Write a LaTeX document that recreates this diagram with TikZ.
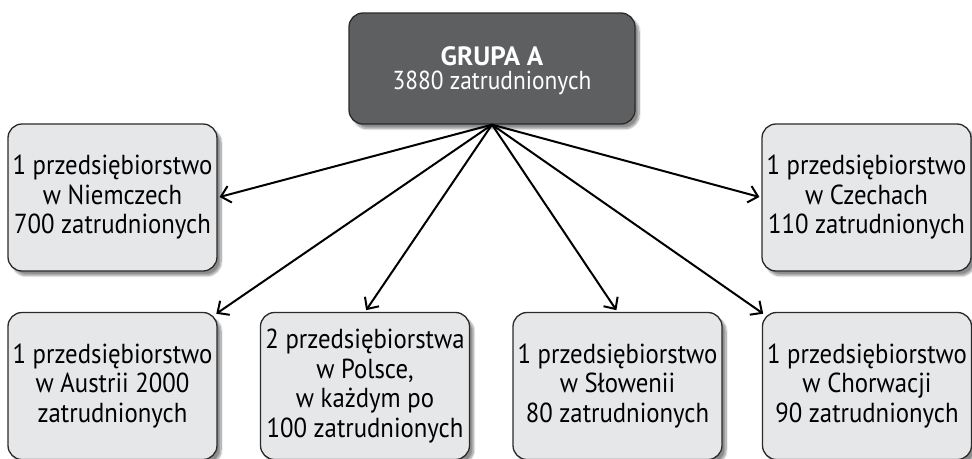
\documentclass[tikz,border=0pt]{standalone}
\usepackage{fontspec}
\setmainfont{PT Sans}[FakeStretch=0.9]
\newfontfamily\grupafont{PT Sans}[FakeStretch=1.02]
\usetikzlibrary{positioning,arrows.meta,shadows.blur}
\definecolor{boxfill}{HTML}{E6E7E8}
\definecolor{topfill}{HTML}{5E5F61}
\definecolor{boxline}{HTML}{2A2A2A}
\tikzset{firmbox/.style={draw=boxline, line width=1.3pt, rounded corners=14pt, fill=boxfill, minimum width=209pt, minimum height=147pt, inner sep=2pt, align=center, font=\fontsize{27.5}{29.5}\selectfont, blur shadow={shadow xshift=4pt, shadow yshift=-4.5pt, shadow blur steps=10, shadow blur extra rounding=3pt, shadow opacity=45}}}
\tikzset{grupabox/.style={firmbox, fill=topfill, text=white, minimum width=286pt, minimum height=111pt, font=\fontsize{26}{24}\selectfont}}
\tikzset{arr/.style={draw, -{Straight Barb[length=9pt,width=17pt,line width=2pt]}, line width=2pt, shorten >=2pt}}

\begin{document}
\begin{tikzpicture}[x=1pt,y=-1pt]
	\useasboundingbox (0,0) rectangle (972,458);
	\node[grupabox] (A) at (492,68.5) {\rule{0pt}{24pt}{\grupafont\bfseries\fontsize{26.5}{24}\selectfont GRUPA A}\\3880 zatrudnionych};
	% first row
	\node[firmbox] (de) at (112.5,197.5) {1 przedsiębiorstwo\\w Niemczech\\700 zatrudnionych};
	\node[firmbox] (cz) at (866.5,197.5) {1 przedsiębiorstwo\\w Czechach\\110 zatrudnionych};
	% second row
	\node[firmbox] (at) at (112.5,386) {1 przedsiębiorstwo\\w Austrii 2000\\zatrudnionych};
	\node[firmbox] (pl) at (365,386) {2 przedsiębiorstwa\\w Polsce,\\w każdym po\\100 zatrudnionych};
	\node[firmbox] (si) at (617.5,386) {1 przedsiębiorstwo\\w Słowenii\\80 zatrudnionych};
	\node[firmbox] (hr) at (867,386) {1 przedsiębiorstwo\\w Chorwacji\\90 zatrudnionych};
	\draw[arr] (A.south) -- (de.east);
	\draw[arr] (A.south) -- (cz.west);
	\draw[arr] (A.south) -- ([xshift=-3pt,yshift=-3pt]at.north east);
	\draw[arr] (A.south) -- (pl.north);
	\draw[arr] (A.south) -- (si.north);
	\draw[arr] (A.south) -- ([xshift=3pt,yshift=-3pt]hr.north west);
\end{tikzpicture}
\end{document}
